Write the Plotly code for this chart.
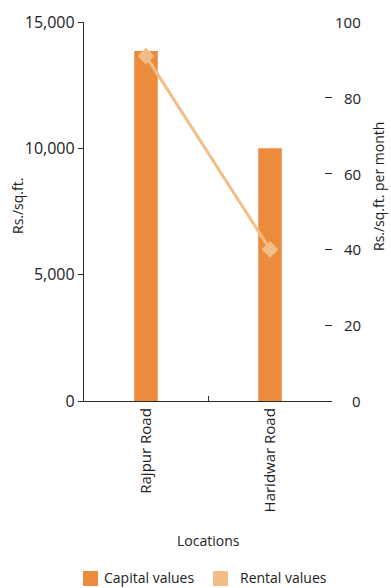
import plotly.graph_objects as go

# Real estate values by location
locations = ["Rajpur Road", "Haridwar Road"]
capital_values = [13850, 10000]   # Rs./sq.ft.
rental_values = [91, 40]          # Rs./sq.ft. per month

left_ticks = [0, 5000, 10000, 15000]
left_tick_text = ["0", "5,000", "10,000", "15,000"]
right_ticks = [0, 20, 40, 60, 80, 100]

series_names = ["Capital values", "Rental values"]

BAR_COLOR = "#EB8C3D"
RENT_COLOR = "#F3BD88"
AXIS_COLOR = "#2b2b2b"
TEXT_COLOR = "#222222"
FONT = "Open Sans"

W, H = 391, 588
ML, MR, MT, MB = 84, 59, 22, 187
PW, PH = W - ML - MR, H - MT - MB


def px(x):
    return (x - ML) / PW


def py(y):
    return (H - MB - y) / PH


fig = go.Figure()

fig.add_trace(go.Bar(
    x=locations, y=capital_values, name=series_names[0],
    marker=dict(color=BAR_COLOR, line=dict(width=0)),
    width=0.19, yaxis="y", showlegend=False,
))

fig.add_trace(go.Scatter(
    x=locations, y=rental_values, name=series_names[1],
    mode="lines+markers", yaxis="y2", showlegend=False,
    line=dict(color=RENT_COLOR, width=3),
    marker=dict(symbol="diamond", size=13, color=RENT_COLOR),
))

annotations = [
    dict(text="Locations", xref="paper", yref="paper",
         x=px(208), y=py(540), xanchor="center", yanchor="middle",
         showarrow=False, font=dict(size=14)),
    dict(text="Rs./sq.ft.", xref="paper", yref="paper",
         x=px(18), y=py(206), xanchor="center", yanchor="middle",
         showarrow=False, textangle=-90, font=dict(size=14)),
    dict(text="Rs./sq.ft. per month", xref="paper", yref="paper",
         x=px(378), y=py(187), xanchor="center", yanchor="middle",
         showarrow=False, textangle=-90, font=dict(size=14)),
]

# right-axis labels, right-aligned beside the tick dashes
for v in right_ticks:
    annotations.append(dict(
        text=str(v), xref="paper", yref="y2", x=px(363), y=v,
        xanchor="right", yanchor="middle", showarrow=False,
        font=dict(size=15),
    ))

# legend: square swatches followed by series names
shapes = []
legend_items = [(83, 103, BAR_COLOR), (213, 239, RENT_COLOR)]
for name, (sx, tx, col) in zip(series_names, legend_items):
    shapes.append(dict(
        type="rect", xref="paper", yref="paper",
        x0=px(sx), x1=px(sx + 15), y0=py(586), y1=py(571),
        fillcolor=col, line=dict(width=0),
    ))
    annotations.append(dict(
        text=name, xref="paper", yref="paper", x=px(tx), y=py(577),
        xanchor="left", yanchor="middle", showarrow=False,
        borderpad=0, font=dict(size=14),
    ))

fig.update_layout(
    width=W, height=H,
    margin=dict(l=ML, r=MR, t=MT, b=MB),
    plot_bgcolor="white", paper_bgcolor="white",
    font=dict(family=FONT, size=14, color=TEXT_COLOR),
    showlegend=False,
    xaxis=dict(
        range=[-0.5, 1.5], type="category",
        showline=True, linecolor=AXIS_COLOR, linewidth=1.3,
        ticks="inside", tickson="boundaries", ticklen=5,
        tickcolor=AXIS_COLOR, tickangle=-90,
        tickfont=dict(size=15), showgrid=False, zeroline=False,
    ),
    yaxis=dict(
        range=[0, 15000], tickvals=left_ticks, ticktext=left_tick_text,
        showline=True, linecolor=AXIS_COLOR, linewidth=1.3,
        ticks="outside", ticklen=5, tickcolor=AXIS_COLOR,
        tickfont=dict(size=16), showgrid=False, zeroline=False,
    ),
    yaxis2=dict(
        range=[0, 100], tickvals=right_ticks[1:], overlaying="y",
        side="right", showline=False, ticks="inside", ticklen=7,
        tickcolor=AXIS_COLOR, showticklabels=False,
        showgrid=False, zeroline=False,
    ),
    shapes=shapes,
    annotations=annotations,
)

fig.write_html("out.html")
